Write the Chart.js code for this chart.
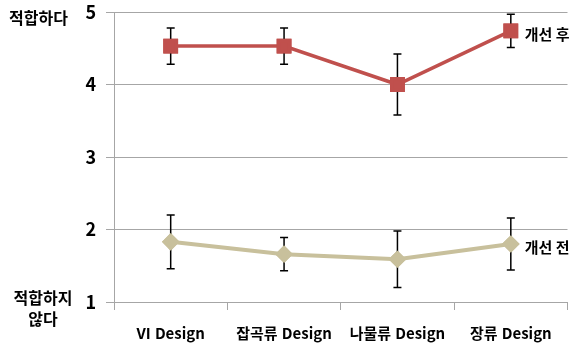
<!DOCTYPE html>
<html lang="ko">
<head>
<meta charset="UTF-8">
<title>개선 전후 적합도</title>
<script src="https://cdn.jsdelivr.net/npm/chart.js"></script>
<style>
  html, body { margin: 0; padding: 0; background: #fff; }
  #wrap { width: 579px; height: 346px; position: relative; }
</style>
</head>
<body>
<div id="wrap"><canvas id="chart"></canvas></div>
<script>
// --- Data ---
const categories = ['VI Design', '잡곡류 Design', '나물류 Design', '장류 Design'];
const afterValues = [4.53, 4.53, 4.00, 4.74];
const afterErrors = [0.25, 0.25, 0.42, 0.23];
const beforeValues = [1.83, 1.66, 1.59, 1.80];
const beforeErrors = [0.37, 0.23, 0.39, 0.36];
const seriesNames = ['개선 후', '개선 전'];
const yTicks = [1, 2, 3, 4, 5];

const FONT = '"Noto Sans CJK KR", "Noto Sans", sans-serif';

// error bars + side labels, drawn through the chart's own scales
const errorBarPlugin = {
  id: 'errorBars',
  afterDatasetsDraw(chart) {
    const ctx = chart.ctx;
    const xs = chart.scales.x, ys = chart.scales.y;
    ctx.save();
    ctx.strokeStyle = '#000';
    ctx.lineWidth = 1.5;
    chart.data.datasets.forEach(ds => {
      ds.data.forEach((v, i) => {
        const x = xs.getPixelForValue(i);
        const top = ys.getPixelForValue(v + ds.errors[i]);
        const bot = ys.getPixelForValue(v - ds.errors[i]);
        ctx.beginPath();
        ctx.moveTo(x, top); ctx.lineTo(x, bot);
        ctx.moveTo(x - 4, top); ctx.lineTo(x + 4, top);
        ctx.moveTo(x - 4, bot); ctx.lineTo(x + 4, bot);
        ctx.stroke();
      });
    });
    // re-draw markers on top of error bars
    chart.data.datasets.forEach((ds, di) => {
      chart.getDatasetMeta(di).data.forEach(pt => pt.draw(ctx, chart.chartArea));
    });
    // series names at the right end
    ctx.fillStyle = '#000';
    ctx.font = '600 15px ' + FONT;
    ctx.textBaseline = 'middle';
    ctx.textAlign = 'left';
    chart.data.datasets.forEach(ds => {
      const last = ds.data.length - 1;
      ctx.fillText(ds.label, xs.getPixelForValue(last) + 14, ys.getPixelForValue(ds.data[last]) + 3);
    });
    // axis end captions
    ctx.font = '600 16px ' + FONT;
    ctx.textAlign = 'left';
    ctx.fillText('적합하다', 9, ys.getPixelForValue(5) + 6);
    ctx.textAlign = 'center';
    ctx.fillText('적합하지', 43, ys.getPixelForValue(1) - 4);
    ctx.fillText('않다', 43, ys.getPixelForValue(1) + 17);
    ctx.restore();
  }
};

new Chart(document.getElementById('chart'), {
  type: 'line',
  data: {
    labels: categories,
    datasets: [
      {
        label: seriesNames[0], data: afterValues, errors: afterErrors,
        borderColor: '#C0504D', backgroundColor: '#C0504D', borderWidth: 3.5,
        pointStyle: 'rect', pointRadius: 8, pointHoverRadius: 8
      },
      {
        label: seriesNames[1], data: beforeValues, errors: beforeErrors,
        borderColor: '#C8C09C', backgroundColor: '#C8C09C', borderWidth: 4,
        pointStyle: 'rectRot', pointRadius: 6, pointHoverRadius: 6
      }
    ]
  },
  options: {
    responsive: true,
    maintainAspectRatio: false,
    animation: false,
    layout: { padding: { top: 12, right: 6, bottom: 0, left: 0 } },
    plugins: { legend: { display: false }, tooltip: { enabled: false } },
    scales: {
      x: {
        offset: true,
        afterFit(scale) { scale.height = 44; },
        grid: { offset: true, drawOnChartArea: false, color: '#A6A6A6', tickLength: 8 },
        border: { color: '#A6A6A6' },
        ticks: { color: '#000', font: { family: FONT, size: 15, weight: 'bold' }, padding: 14, maxRotation: 0 }
      },
      y: {
        min: 1, max: 5,
        afterFit(scale) { scale.width = 114; scale.paddingTop = 0; scale.paddingBottom = 0; },
        afterBuildTicks(scale) { scale.ticks = yTicks.map(v => ({ value: v })); },
        grid: { color: '#A6A6A6', tickLength: 8 },
        border: { color: '#A6A6A6' },
        ticks: { color: '#000', font: { family: FONT, size: 18, weight: 'bold' }, padding: 10 }
      }
    }
  },
  plugins: [errorBarPlugin]
});
</script>
</body>
</html>
